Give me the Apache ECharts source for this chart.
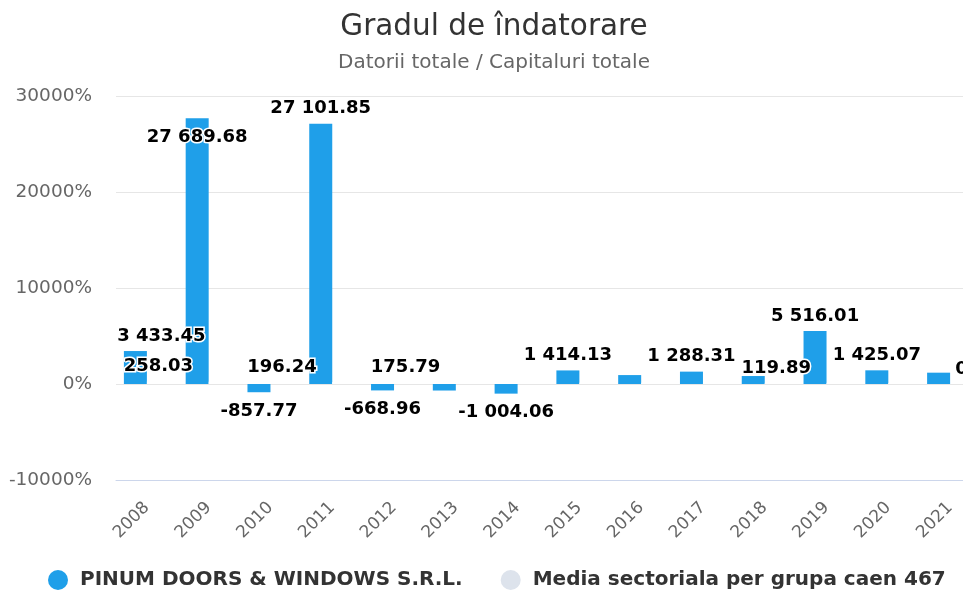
<!DOCTYPE html>
<html>
<head>
<meta charset="utf-8">
<script src="https://cdn.jsdelivr.net/npm/echarts@6/dist/echarts.min.js"></script>
<style>
  html, body { margin: 0; padding: 0; background: #fff; }
  #chart { width: 963px; height: 591px; }
</style>
</head>
<body>
<div id="chart"></div>
<script>
// Data
const years = ['2008', '2009', '2010', '2011', '2012', '2013', '2014', '2015', '2016', '2017', '2018', '2019', '2020', '2021'];
const firmValues = [3433.45, 27689.68, -857.77, 27101.85, -668.96, -680, -1004.06, 1414.13, 930, 1288.31, 830, 5516.01, 1425.07, 1180];
const mediaValues = [258.03, 240, 196.24, 210, 175.79, 160, 150, 140, 130, 125, 119.89, 115, 110, 0];
const firmName = 'PINUM DOORS & WINDOWS S.R.L.';
const mediaName = 'Media sectoriala per grupa caen 467';

const FONT = 'DejaVu Sans';

// labels the original hides because they collide
const hiddenFirmLabels = [5, 8, 10, 13];
const shownMediaLabels = [0, 2, 4, 10, 13];

function fmt(v) {
    if (v === 0) return '0';
    const parts = Math.abs(v).toFixed(2).split('.');
    return (v < 0 ? '-' : '') + parts[0].replace(/\B(?=(\d{3})+(?!\d))/g, ' ') + '.' + parts[1];
}

const labelBase = {
    show: true,
    fontFamily: FONT,
    fontSize: 18,
    fontWeight: 'bold',
    color: '#000',
    textBorderColor: '#fff',
    textBorderWidth: 3,
    formatter: p => fmt(p.value)
};

const firmData = firmValues.map((v, i) => {
    const label = { position: v < 0 ? 'bottom' : 'top', distance: v < 0 ? 10 : 6 };
    if (hiddenFirmLabels.includes(i)) label.show = false;
    if (i === 0) label.offset = [26, 0];
    if (i === 1) { label.position = 'insideTop'; label.distance = 10; }
    return { value: v, label: label };
});

const mediaData = mediaValues.map((v, i) => ({
    value: v,
    label: { show: shownMediaLabels.includes(i), position: 'top', distance: 6 }
}));

const chart = echarts.init(document.getElementById('chart'));

const option = {
    animation: false,
    title: {
        text: 'Gradul de îndatorare',
        subtext: 'Datorii totale / Capitaluri totale',
        left: 494,
        top: 12,
        textAlign: 'center',
        padding: 0,
        itemGap: 11,
        textStyle: { fontFamily: FONT, fontSize: 29.5, fontWeight: 'normal', color: '#333' },
        subtextStyle: { fontFamily: FONT, fontSize: 20, color: '#666' }
    },
    legend: {
        left: 48,
        bottom: 1,
        padding: 0,
        icon: 'circle',
        itemWidth: 20,
        itemHeight: 20,
        itemGap: 38,
        textStyle: { fontFamily: FONT, fontSize: 20, fontWeight: 'bold', color: '#333', padding: [0, 0, 0, 7] },
        data: [
            { name: firmName, itemStyle: { color: '#1f9fe9' } },
            { name: mediaName, itemStyle: { color: '#dde3ec' } }
        ]
    },
    grid: { left: 116, top: 96, width: 865, height: 384, containLabel: false, outerBoundsMode: 'none' },
    xAxis: {
        type: 'category',
        data: years,
        axisLine: { onZero: false, lineStyle: { color: '#ccd6eb' } },
        axisTick: { show: false },
        axisLabel: { rotate: 45, margin: 25, fontFamily: FONT, fontSize: 17, color: '#666' }
    },
    yAxis: {
        type: 'value',
        min: -10000,
        max: 30000,
        interval: 10000,
        axisLine: { show: false },
        axisTick: { show: false },
        splitLine: { lineStyle: { color: '#e6e6e6' } },
        axisLabel: { margin: 24, fontFamily: FONT, fontSize: 18.5, color: '#666', formatter: v => v + '%' }
    },
    series: [
        {
            name: firmName,
            type: 'bar',
            barWidth: 23,
            barGap: '0%',
            itemStyle: { color: '#1f9fe9' },
            label: labelBase,
            data: firmData
        },
        {
            name: mediaName,
            type: 'bar',
            barWidth: 23,
            itemStyle: { color: '#ffffff' },
            label: labelBase,
            data: mediaData
        }
    ]
};

chart.setOption(option);
</script>
</body>
</html>
